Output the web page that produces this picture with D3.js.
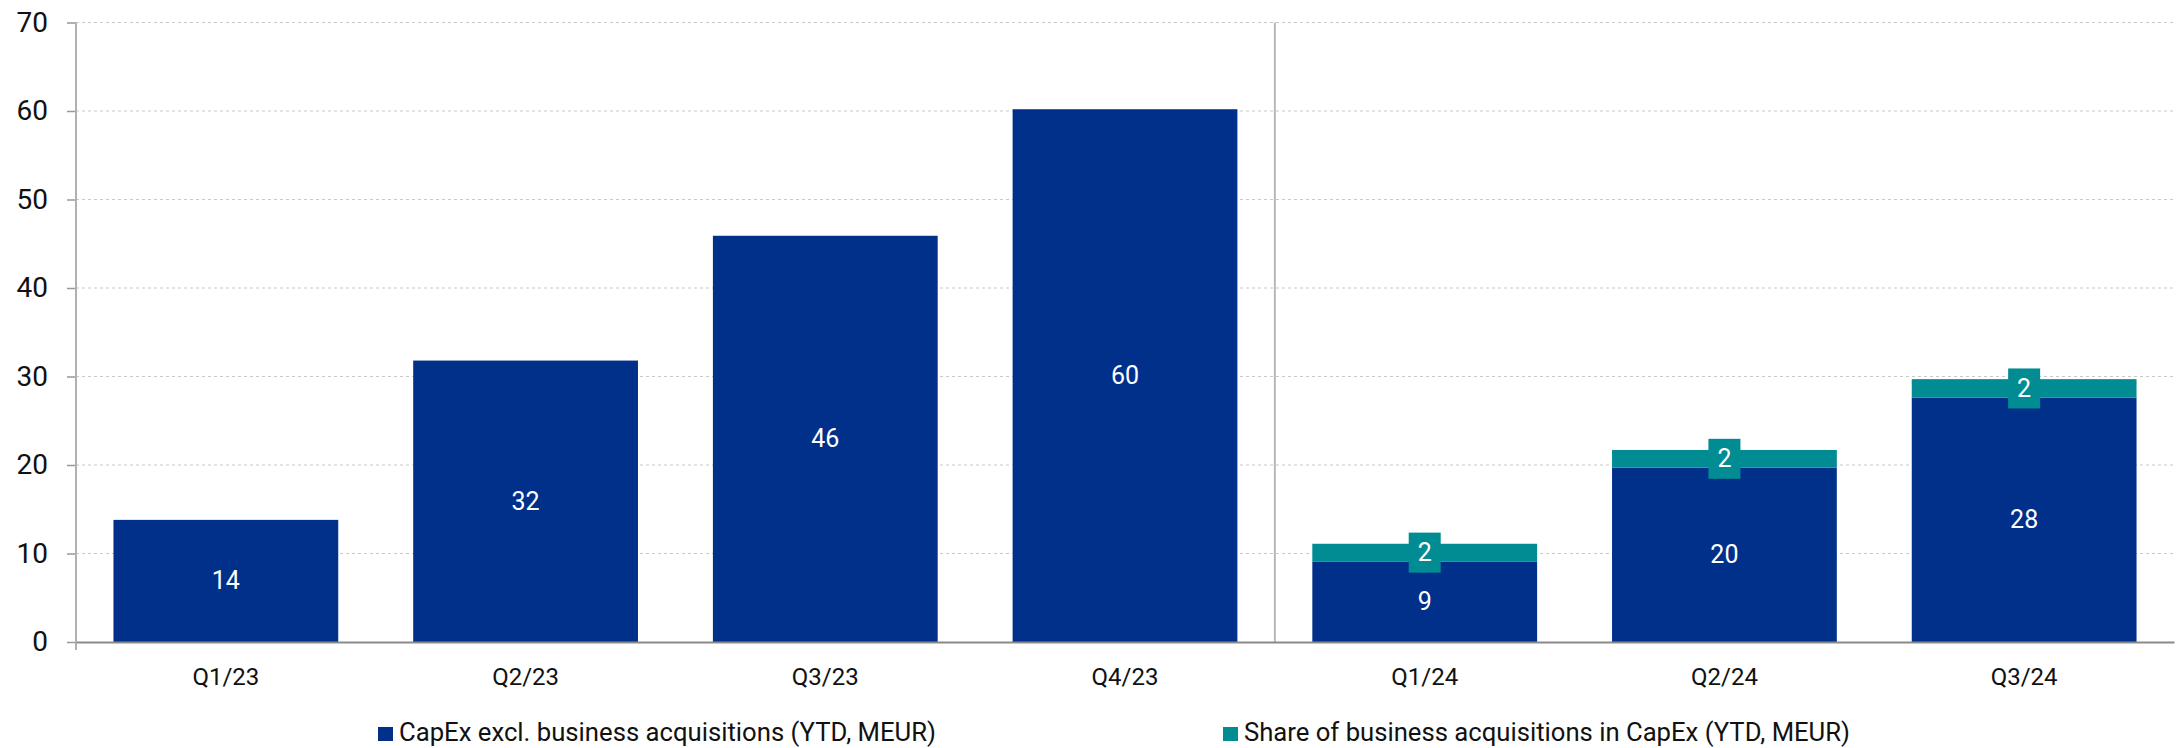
<!DOCTYPE html>
<html>
<head>
<meta charset="utf-8">
<script src="https://cdn.jsdelivr.net/npm/d3@7"></script>
<style>
  html, body { margin: 0; padding: 0; background: #fff; }
  svg { display: block; font-family: Roboto, "Noto Sans", sans-serif; }
</style>
</head>
<body>
<svg id="chart" width="2183" height="748"></svg>
<script>
// Quarterly CapEx, year-to-date, MEUR
const categories = ["Q1/23", "Q2/23", "Q3/23", "Q4/23", "Q1/24", "Q2/24", "Q3/24"];
const capexExcl = [13.8, 31.8, 45.9, 60.2, 9.1, 19.7, 27.6];
const acquisitions = [0, 0, 0, 0, 2.0, 2.0, 2.1];
const yTicks = [0, 10, 20, 30, 40, 50, 60, 70];
const seriesNames = [
  "CapEx excl. business acquisitions (YTD, MEUR)",
  "Share of business acquisitions in CapEx (YTD, MEUR)"
];
const colors = ["#00308A", "#008C92"];

const svg = d3.select("#chart");
const plotLeft = 76, plotRight = 2174, plotTop = 22.5, plotBottom = 642;

const x = d3.scaleBand().domain(categories).range([plotLeft, plotRight])
  .paddingInner(0.25).paddingOuter(0.125);
const y = d3.scaleLinear().domain([0, 70]).range([plotBottom, plotTop]);
const fmt = d3.format(".0f");

// Dashed horizontal gridlines
svg.append("g").selectAll("line").data(yTicks.filter(d => d > 0)).join("line")
  .attr("x1", plotLeft).attr("x2", plotRight)
  .attr("y1", d => y(d)).attr("y2", d => y(d))
  .attr("stroke", "#c8c8c8").attr("stroke-width", 1.2)
  .attr("stroke-dasharray", "3,3");

// Stacked bars
const rows = categories.map((c, i) => ({ c, a: capexExcl[i], b: acquisitions[i] }));

svg.append("g").selectAll("rect").data(rows).join("rect")
  .attr("x", d => x(d.c)).attr("width", x.bandwidth())
  .attr("y", d => y(d.a)).attr("height", d => y(0) - y(d.a))
  .attr("fill", colors[0]);

const withAcq = rows.filter(d => d.b > 0);
svg.append("g").selectAll("rect").data(withAcq).join("rect")
  .attr("x", d => x(d.c)).attr("width", x.bandwidth())
  .attr("y", d => y(d.a + d.b)).attr("height", d => y(d.a) - y(d.a + d.b))
  .attr("fill", colors[1]);

// Value labels inside the dark segments
svg.append("g").selectAll("text").data(rows).join("text")
  .attr("x", d => x(d.c) + x.bandwidth() / 2)
  .attr("y", d => (y(d.a) + y(0)) / 2)
  .attr("text-anchor", "middle").attr("dominant-baseline", "central")
  .attr("fill", "#fff").attr("font-size", 25)
  .text(d => fmt(d.a));

// Boxed labels on the acquisition segments
const boxes = svg.append("g").selectAll("g").data(withAcq).join("g")
  .attr("transform", d => `translate(${x(d.c) + x.bandwidth() / 2},${(y(d.a) + y(d.a + d.b)) / 2})`);
boxes.append("rect").attr("x", -16).attr("y", -20).attr("width", 32).attr("height", 40)
  .attr("fill", colors[1]);
boxes.append("text").attr("text-anchor", "middle").attr("dominant-baseline", "central")
  .attr("fill", "#fff").attr("font-size", 25)
  .text(d => fmt(d.b));

// Divider between years
const dividerX = x(categories[4]) - x.step() * x.paddingInner() / 2;
svg.append("line")
  .attr("x1", dividerX).attr("x2", dividerX)
  .attr("y1", plotTop).attr("y2", plotBottom)
  .attr("stroke", "#b8b8b8").attr("stroke-width", 2);

// Y axis
const yAxis = svg.append("g").attr("transform", `translate(${plotLeft},0)`)
  .call(d3.axisLeft(y).tickValues(yTicks).tickSize(9).tickPadding(19).tickSizeOuter(0));
yAxis.select(".domain").remove();
yAxis.selectAll(".tick line").attr("stroke", "#999").attr("stroke-width", 1.5);
yAxis.selectAll(".tick text").attr("font-size", 28).attr("fill", "#111")
  .attr("font-family", "Roboto, sans-serif");
svg.append("line").attr("x1", plotLeft).attr("x2", plotLeft)
  .attr("y1", plotTop).attr("y2", plotBottom + 8)
  .attr("stroke", "#b0b0b0").attr("stroke-width", 2);

// X baseline and category labels
const xAxis = svg.append("g").attr("transform", `translate(0,${plotBottom})`)
  .call(d3.axisBottom(x).tickSize(0).tickPadding(26));
xAxis.select(".domain").attr("stroke", "#8a8a8a").attr("stroke-width", 2);
xAxis.selectAll(".tick text").attr("font-size", 24).attr("fill", "#111")
  .attr("font-family", "Roboto, sans-serif");

// Legend
const legendX = [378, 1223];
const legendW = [537, 606];
const legend = svg.append("g").selectAll("g").data(seriesNames).join("g")
  .attr("transform", (d, i) => `translate(${legendX[i]},741)`);
legend.append("rect").attr("x", 0).attr("y", -14).attr("width", 15).attr("height", 14)
  .attr("fill", (d, i) => colors[i]);
legend.append("text").attr("x", 21)
  .attr("font-size", 25).attr("fill", "#111")
  .attr("textLength", (d, i) => legendW[i]).attr("lengthAdjust", "spacingAndGlyphs")
  .text(d => d);
</script>
</body>
</html>
